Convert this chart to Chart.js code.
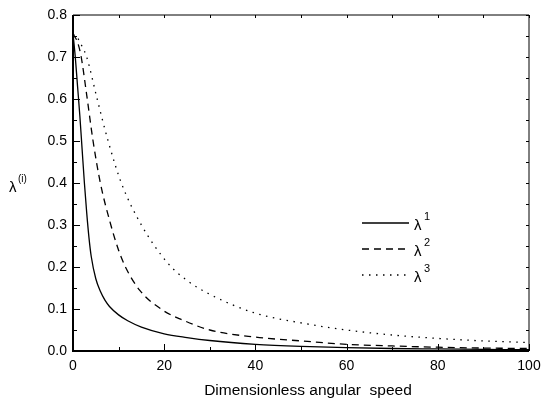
<!DOCTYPE html>
<html>
<head>
<meta charset="utf-8">
<script src="https://cdn.jsdelivr.net/npm/chart.js@4"></script>
<style>
  html, body { margin: 0; padding: 0; background: #fff; }
  #wrap { width: 541px; height: 405px; }
</style>
</head>
<body>
<div id="wrap"><canvas id="myChart" width="541" height="405"></canvas></div>
<script>
// values
const lam1X = [0, 0.5, 1, 1.5, 2, 2.5, 3, 3.5, 4, 5, 6, 7, 8, 10, 12, 15, 20, 25, 30, 40, 50, 60, 70, 80, 90, 100];
const lam1Y = [0.755, 0.70, 0.63, 0.56, 0.48, 0.40, 0.33, 0.27, 0.225, 0.172, 0.142, 0.121, 0.106, 0.086, 0.072, 0.057, 0.041, 0.032, 0.025, 0.016, 0.011, 0.008, 0.006, 0.005, 0.004, 0.003];

const lam2X = [0, 1, 1.8, 3, 4.4, 6, 8.3, 10, 11.5, 14.6, 19.7, 24, 30, 40, 50, 60, 70, 80, 90, 100];
const lam2Y = [0.755, 0.735, 0.70, 0.61, 0.50, 0.40, 0.30, 0.24, 0.20, 0.145, 0.097, 0.074, 0.05, 0.033, 0.024, 0.016, 0.012, 0.009, 0.007, 0.006];

const lam3X = [0, 1, 2, 3, 5.3, 7.7, 10.6, 15, 20.8, 25, 30, 40, 50, 60, 70, 80, 90, 100];
const lam3Y = [0.755, 0.745, 0.725, 0.70, 0.60, 0.50, 0.40, 0.30, 0.209, 0.168, 0.135, 0.09, 0.067, 0.05, 0.038, 0.03, 0.024, 0.02];

const seriesNames = ["1", "2", "3"];
const xTicks = [0, 20, 40, 60, 80, 100];
const yTicks = [0.0, 0.1, 0.2, 0.3, 0.4, 0.5, 0.6, 0.7, 0.8];
const xTitle = "Dimensionless angular  speed";

const font = "'Liberation Sans', Arial, sans-serif";

function pts(xs, ys) {
    return xs.map((x, i) => ({x: x, y: ys[i]}));
}

// frame, inward ticks, legend and the two axis titles
const extras = {
    id: "extras",
    afterDraw(chart) {
        const ctx = chart.ctx, a = chart.chartArea;
        const xs = chart.scales.x, ys = chart.scales.y;
        ctx.save();
        ctx.strokeStyle = "#000";

        ctx.lineWidth = 1;
        ctx.beginPath();
        ctx.moveTo(a.left, a.top); ctx.lineTo(a.right, a.top); ctx.lineTo(a.right, a.bottom);
        ctx.stroke();
        ctx.lineWidth = 2;
        ctx.beginPath();
        ctx.moveTo(a.left, a.top); ctx.lineTo(a.left, a.bottom); ctx.lineTo(a.right, a.bottom);
        ctx.stroke();

        ctx.lineWidth = 1;
        ctx.beginPath();
        for (let v = 0; v <= 100; v += 10) {
            const px = Math.round(xs.getPixelForValue(v)) + 0.5;
            const len = v % 20 === 0 ? 7 : 4;
            ctx.moveTo(px, a.bottom); ctx.lineTo(px, a.bottom - len);
            ctx.moveTo(px, a.top); ctx.lineTo(px, a.top + 3);
        }
        for (let k = 0; k <= 16; k++) {
            const py = Math.round(ys.getPixelForValue(k * 0.05)) + 0.5;
            const len = k % 2 === 0 ? 7 : 4;
            ctx.moveTo(a.left, py); ctx.lineTo(a.left + len, py);
            ctx.moveTo(a.right, py); ctx.lineTo(a.right - 3, py);
        }
        ctx.stroke();

        // legend
        const lx = 362, ly = 223, gap = 26;
        ctx.fillStyle = "#000";
        ctx.textBaseline = "middle";
        chart.data.datasets.forEach((ds, i) => {
            const y = ly + i * gap;
            ctx.lineWidth = ds.borderWidth;
            ctx.setLineDash(ds.borderDash || []);
            ctx.beginPath();
            ctx.moveTo(lx, y); ctx.lineTo(lx + 47, y);
            ctx.stroke();
            ctx.setLineDash([]);
            ctx.font = "15px " + font;
            ctx.fillText("\u03bb", lx + 52, y + 3);
            ctx.font = "11px " + font;
            ctx.fillText(seriesNames[i], lx + 62, y - 6);
        });

        // y title
        ctx.font = "15px " + font;
        ctx.fillText("\u03bb", 9, 188);
        ctx.font = "10px " + font;
        ctx.fillText("(i)", 18, 179);

        // x title
        ctx.textAlign = "center";
        ctx.font = "15.5px " + font;
        ctx.fillText(xTitle, 308, 391);
        ctx.restore();
    }
};

const ctx = document.getElementById("myChart").getContext("2d");

const myChart = new Chart(ctx, {
    type: "scatter",
    data: {
        datasets: [
            {
                label: "\u03bb1",
                data: pts(lam1X, lam1Y),
                showLine: true,
                borderColor: "#000",
                borderWidth: 1.3,
                pointRadius: 0,
                cubicInterpolationMode: "monotone"
            },
            {
                label: "\u03bb2",
                data: pts(lam2X, lam2Y),
                showLine: true,
                borderColor: "#000",
                borderWidth: 1.3,
                borderDash: [7, 5],
                pointRadius: 0,
                cubicInterpolationMode: "monotone"
            },
            {
                label: "\u03bb3",
                data: pts(lam3X, lam3Y),
                showLine: true,
                borderColor: "#000",
                borderWidth: 1.3,
                borderDash: [1.5, 5.5],
                pointRadius: 0,
                cubicInterpolationMode: "monotone"
            }
        ]
    },
    options: {
        responsive: false,
        animation: false,
        layout: { padding: { left: 0, top: 15, right: 12, bottom: 0 } },
        plugins: {
            legend: { display: false },
            tooltip: { enabled: false }
        },
        scales: {
            x: {
                type: "linear",
                min: 0,
                max: 100,
                afterFit: s => { s.height = 54; s.paddingRight = 0; s.paddingLeft = 0; },
                afterBuildTicks: s => { s.ticks = xTicks.map(v => ({value: v})); },
                grid: { display: false, drawTicks: false },
                border: { display: false },
                ticks: {
                    color: "#000",
                    padding: 7,
                    maxRotation: 0,
                    font: { family: font, size: 14 }
                }
            },
            y: {
                type: "linear",
                min: 0,
                max: 0.8,
                afterFit: s => { s.width = 73; s.paddingTop = 0; s.paddingBottom = 0; },
                afterBuildTicks: s => { s.ticks = yTicks.map(v => ({value: v})); },
                grid: { display: false, drawTicks: false },
                border: { display: false },
                ticks: {
                    color: "#000",
                    padding: 6,
                    callback: v => v.toFixed(1),
                    font: { family: font, size: 14 }
                }
            }
        }
    },
    plugins: [extras]
});
</script>
</body>
</html>
